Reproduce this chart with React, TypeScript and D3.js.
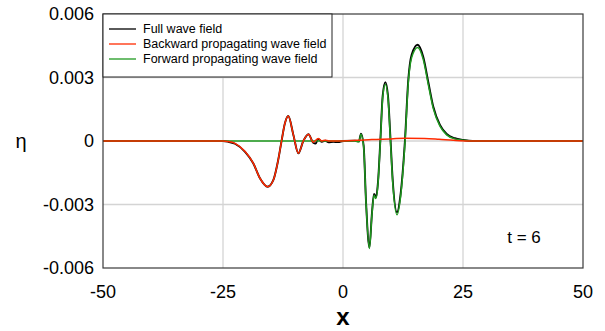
import React from "react";
import * as d3 from "d3";

// backward propagating wave field (red)
const backX = [-50, -30, -25, -24, -22.5, -20.4, -18.7, -17.3, -15.7, -14.5, -13.5, -12.8, -12.1, -11.4, -10.35, -9.3, -8.27, -7.2, -6.2, -5.14, -4.4, -3.7, -3, -1, 0, 3, 6, 10, 13, 17, 20, 23, 26, 30, 50];
const backY = [0, 0, 0, -0.00002, -0.00011, -0.0005, -0.00105, -0.00176, -0.00216, -0.00184, -0.0009, 0, 0.00084, 0.00118, 0.0003, -0.00058, 0, 0.00032, -0.00006, 0.00012, 0, 0.00004, 0, 0, 0, 0.00003, 0.00007, 0.0001, 0.00013, 0.00012, 0.00008, 0.00003, 0, 0, 0];

// forward propagating wave field (green)
const fwdX = [-50, 2.5, 3.3, 3.75, 4.3, 4.8, 5.5, 6.04, 6.46, 6.875, 7.29, 7.78, 8.27, 8.82, 9.375, 9.86, 10.35, 11.25, 11.94, 12.9, 13.6, 14.3, 15.55, 16.7, 17.8, 18.8, 20.2, 21.6, 23.3, 25, 27, 50];
const fwdY = [0, 0, -0.00004, 0.00032, -0.00027, -0.00292, -0.00508, -0.00343, -0.00256, -0.00272, -0.00202, -0.00005, 0.00205, 0.00268, 0.00202, 0.00012, -0.00194, -0.00349, -0.00274, -0.00012, 0.00276, 0.00394, 0.00442, 0.00387, 0.00263, 0.00154, 0.0007, 0.00029, 0.0001, 0.00004, 0, 0];

// full wave field (black)
const fullX = [-50, -30, -25, -24, -22.5, -20.4, -18.7, -17.3, -15.7, -14.5, -13.5, -12.8, -12.1, -11.4, -10.35, -9.3, -8.27, -7.2, -6.2, -5.7, -5.14, -4.4, -3.7, -3, -2, -1, 0, 2.5, 3.3, 3.75, 4.3, 4.8, 5.5, 6.04, 6.46, 6.875, 7.29, 7.78, 8.27, 8.82, 9.375, 9.86, 10.35, 11.25, 11.94, 12.9, 13.6, 14.3, 15.55, 16.7, 17.8, 18.8, 20.2, 21.6, 23.3, 25, 27, 30, 50];
const fullY = [0, 0, 0, -0.00003, -0.00013, -0.00051, -0.00105, -0.00176, -0.00216, -0.00184, -0.0009, 0, 0.00084, 0.00118, 0.0003, -0.00058, 0, 0.00032, -0.00008, -0.00012, 0.0001, -0.00004, 0.00002, -0.00006, -0.00004, -0.00005, 0, 0.00002, -0.00002, 0.00035, -0.00022, -0.00288, -0.00503, -0.00338, -0.0025, -0.00265, -0.00194, 0.00003, 0.00214, 0.00278, 0.00213, 0.00024, -0.00182, -0.00337, -0.00262, 0.00001, 0.00289, 0.00407, 0.00455, 0.00399, 0.00275, 0.00163, 0.00076, 0.00033, 0.00013, 0.00005, 0, 0, 0];

const xTicks = [-50, -25, 0, 25, 50];
const yTicks = [-0.006, -0.003, 0, 0.003, 0.006];
const yTickLabels = ["-0.006", "-0.003", "0", "0.003", "0.006"];

const legendNames = ["Full wave field", "Backward propagating wave field", "Forward propagating wave field"];
const legendColors = ["#000000", "#ff2a00", "#1f9a1f"];

const W = 605;
const H = 331;
const M = { left: 103, right: 22, top: 14, bottom: 63 };
const FONT = "Arial, 'Liberation Sans', sans-serif";

export default function App() {
  const x = d3.scaleLinear().domain([-50, 50]).range([M.left, W - M.right]);
  const y = d3.scaleLinear().domain([-0.006, 0.006]).range([H - M.bottom, M.top]);

  const line = (xs: number[], ys: number[]) =>
    d3
      .line<number>()
      .x((_, i) => x(xs[i]))
      .y((d) => y(d))
      .curve(d3.curveMonotoneX)(ys) as string;

  return (
    <svg width={W} height={H} style={{ position: "absolute", left: 0, top: 0, background: "#fff" }} fontFamily={FONT}>
      {/* grid */}
      {xTicks.slice(1, -1).map((t) => (
        <line key={"gx" + t} x1={x(t)} x2={x(t)} y1={M.top} y2={H - M.bottom} stroke="#d4d4d4" strokeWidth={1.3} />
      ))}
      {yTicks.slice(1, -1).map((t) => (
        <line key={"gy" + t} x1={M.left} x2={W - M.right} y1={y(t)} y2={y(t)} stroke="#d4d4d4" strokeWidth={1.3} />
      ))}

      {/* series */}
      <path d={line(fullX, fullY)} fill="none" stroke="#000" strokeWidth={1.9} />
      <path d={line(fwdX, fwdY)} fill="none" stroke={legendColors[2]} strokeWidth={1.5} />
      <path d={line(backX, backY)} fill="none" stroke={legendColors[1]} strokeWidth={1.5} />

      {/* frame */}
      <rect x={M.left} y={M.top} width={W - M.right - M.left} height={H - M.bottom - M.top} fill="none" stroke="#3a3a3a" strokeWidth={1.2} />

      {/* y tick labels */}
      {yTicks.map((t, i) => (
        <text key={"yt" + t} x={94} y={y(t)} dy="0.36em" textAnchor="end" fontSize={18} fill="#000">
          {yTickLabels[i]}
        </text>
      ))}
      {/* x tick labels */}
      {xTicks.map((t) => (
        <text key={"xt" + t} x={x(t)} y={298} textAnchor="middle" fontSize={18} fill="#000">
          {t}
        </text>
      ))}

      <text x={x(0)} y={325} textAnchor="middle" fontSize={24} fontWeight="bold">x</text>
      <text x={21} y={148} textAnchor="middle" fontSize={20}>η</text>
      <text x={524} y={243} textAnchor="middle" fontSize={17}>t = 6</text>

      {/* legend */}
      <g>
        <rect x={103} y={14} width={229} height={63} fill="#fff" stroke="#222" strokeWidth={1} />
        {legendNames.map((n, i) => (
          <g key={n} transform={`translate(0,${29 + i * 15})`}>
            <line x1={109} x2={136} y1={0} y2={0} stroke={legendColors[i]} strokeWidth={1.3} />
            <text x={143} y={0} dy="0.35em" fontSize={12.5}>{n}</text>
          </g>
        ))}
      </g>
    </svg>
  );
}
